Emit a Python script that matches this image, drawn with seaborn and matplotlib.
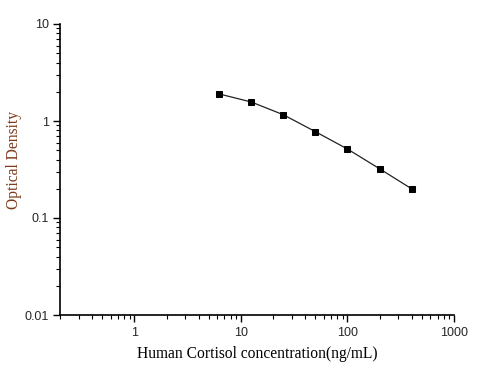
import numpy as np
import pandas as pd
import matplotlib
matplotlib.use("Agg")
import matplotlib.pyplot as plt
import seaborn as sns
from matplotlib.ticker import LogLocator, NullFormatter, FixedLocator, FixedFormatter

# Standard curve values
concentration = [6.25, 12.5, 25, 50, 100, 200, 400]
optical_density = [1.90, 1.57, 1.16, 0.776, 0.514, 0.322, 0.200]

x_ticks = [1, 10, 100, 1000]
x_tick_labels = ["1", "10", "100", "1000"]
y_ticks = [0.01, 0.1, 1, 10]
y_tick_labels = ["0.01", "0.1", "1", "10"]

df = pd.DataFrame({"conc": concentration, "od": optical_density})

sns.set_style("ticks")
plt.rcParams["font.family"] = ["Liberation Sans", "DejaVu Sans"]

fig = plt.figure(figsize=(4.87, 3.74), dpi=100)
ax = fig.add_axes([60 / 487, 59 / 374, 394 / 487, 291 / 374])

sns.lineplot(data=df, x="conc", y="od", ax=ax, color="#222222", linewidth=0.9,
             marker="s", markersize=5, markerfacecolor="black",
             markeredgecolor="black")

ax.set_xscale("log")
ax.set_yscale("log")
ax.set_xlim(0.2, 1000)
ax.set_ylim(0.01, 10)

ax.xaxis.set_major_locator(FixedLocator(x_ticks))
ax.xaxis.set_major_formatter(FixedFormatter(x_tick_labels))
ax.yaxis.set_major_locator(FixedLocator(y_ticks))
ax.yaxis.set_major_formatter(FixedFormatter(y_tick_labels))
ax.xaxis.set_minor_locator(LogLocator(base=10, subs=np.arange(2, 10)))
ax.yaxis.set_minor_locator(LogLocator(base=10, subs=np.arange(2, 10)))
ax.xaxis.set_minor_formatter(NullFormatter())
ax.yaxis.set_minor_formatter(NullFormatter())

ax.tick_params(which="major", direction="out", length=5, width=1, labelsize=9, color="black")
ax.tick_params(which="minor", direction="out", length=3, width=0.8, color="black")
ax.tick_params(axis="x", which="major", pad=4)
ax.tick_params(axis="y", which="major", pad=3)

sns.despine(ax=ax)
for s in ["left", "bottom"]:
    ax.spines[s].set_color("black")
    ax.spines[s].set_linewidth(1.2)

ax.set_xlabel("Human Cortisol concentration(ng/mL)", family=["Liberation Serif"],
              fontsize=11.2, color="black")
ax.set_ylabel("Optical Density", family=["Liberation Serif"],
              fontsize=11.2, color="#7f3a1c")
ax.xaxis.set_label_coords(0.5, -31 / 291)
ax.yaxis.set_label_coords(-38 / 394, 155 / 291)

fig.savefig("out.png", dpi=100)
